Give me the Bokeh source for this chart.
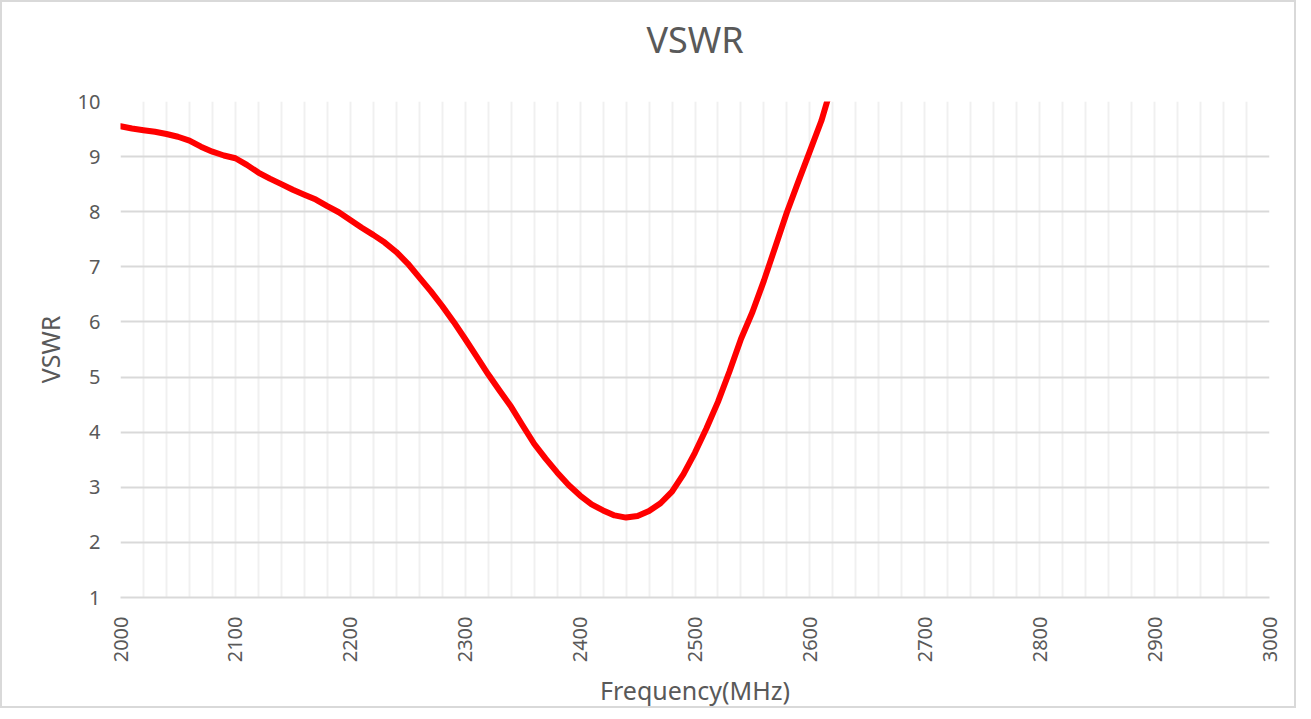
import math
from bokeh.plotting import figure
from bokeh.models import Range1d, FixedTicker, Title
from bokeh.embed import file_html
from bokeh.resources import INLINE

# Data
freq_mhz = [2000, 2010, 2020, 2030, 2040, 2050, 2060, 2070, 2080, 2090,
            2100, 2110, 2120, 2130, 2140, 2150, 2160, 2170, 2180, 2190,
            2200, 2210, 2220, 2230, 2240, 2250, 2260, 2270, 2280, 2290,
            2300, 2310, 2320, 2330, 2340, 2350, 2360, 2370, 2380, 2390,
            2400, 2410, 2420, 2430, 2440, 2450, 2460, 2470, 2480, 2490,
            2500, 2510, 2520, 2530, 2540, 2550, 2560, 2570, 2580, 2590,
            2600, 2610, 2620, 2640]
vswr = [9.55, 9.51, 9.48, 9.45, 9.41, 9.36, 9.29, 9.18, 9.09, 9.02,
        8.97, 8.85, 8.71, 8.60, 8.50, 8.40, 8.31, 8.22, 8.10, 7.99,
        7.85, 7.71, 7.58, 7.44, 7.27, 7.06, 6.81, 6.56, 6.29, 6.00,
        5.69, 5.37, 5.05, 4.75, 4.46, 4.12, 3.79, 3.52, 3.27, 3.04,
        2.85, 2.69, 2.58, 2.49, 2.45, 2.48, 2.57, 2.71, 2.92, 3.24,
        3.63, 4.07, 4.55, 5.10, 5.69, 6.18, 6.75, 7.37, 7.99, 8.55,
        9.10, 9.65, 10.35, 11.50]

x_ticks = [2000, 2100, 2200, 2300, 2400, 2500, 2600, 2700, 2800, 2900, 3000]
x_grid = list(range(2000, 3001, 20))
y_ticks = [1, 2, 3, 4, 5, 6, 7, 8, 9, 10]
title_text = "VSWR"

TEXT = "#595959"
FONT = "Noto Sans"

p = figure(width=1296, height=708, output_backend="svg", toolbar_location=None,
           x_range=Range1d(2000, 3000), y_range=Range1d(1, 10),
           min_border_left=118, min_border_right=29, min_border_top=99,
           min_border_bottom=113)
p.outline_line_color = None
p.background_fill_color = "white"
p.border_fill_color = "white"

# spacer between frame and title, then the title itself (stacked outward)
p.add_layout(Title(text=" ", text_font_size="10px", standoff=25), "above")
p.add_layout(Title(text=title_text, align="center", vertical_align="bottom",
                   text_font=FONT, text_font_size="36px", text_color=TEXT,
                   text_font_style="normal", standoff=0), "above")

p.line(freq_mhz, vswr, line_color="#ff0000", line_width=6, line_join="round", line_cap="round")

# X axis
p.xaxis.ticker = FixedTicker(ticks=x_ticks)
p.xaxis.major_label_orientation = math.pi / 2
p.xaxis.axis_label = "Frequency(MHz)"
p.xaxis.axis_line_color = "#d9d9d9"
p.xaxis.axis_line_width = 2
p.xaxis.major_tick_line_color = None
p.xaxis.minor_tick_line_color = None
p.xaxis.major_label_standoff = 13
p.xaxis.axis_label_standoff = 8

# Y axis
p.yaxis.ticker = FixedTicker(ticks=y_ticks)
p.yaxis.axis_label = "VSWR"
p.yaxis.axis_line_color = None
p.yaxis.major_tick_line_color = None
p.yaxis.minor_tick_line_color = None
p.yaxis.major_label_standoff = 14
p.yaxis.axis_label_standoff = 8

for ax in (p.xaxis, p.yaxis):
    ax.major_label_text_font = FONT
    ax.major_label_text_font_size = "20px"
    ax.major_label_text_color = TEXT
    ax.axis_label_text_font = FONT
    ax.axis_label_text_font_size = "25px"
    ax.axis_label_text_color = TEXT
    ax.axis_label_text_font_style = "normal"

# Grids
p.xgrid.ticker = FixedTicker(ticks=x_grid)
p.xgrid.grid_line_color = "#f0f0f0"
p.xgrid.grid_line_width = 2
p.ygrid.ticker = FixedTicker(ticks=y_ticks)
p.ygrid.grid_line_color = "#d9d9d9"
p.ygrid.grid_line_width = 2

p.styles = {"border": "2px solid #d9d9d9"}

open("out.html", "w").write(file_html(p, INLINE))
